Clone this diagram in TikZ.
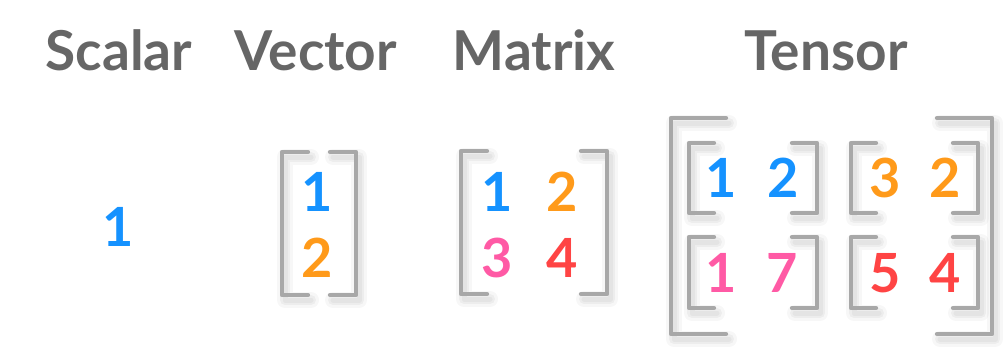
\documentclass[tikz,border=0pt]{standalone}
\usepackage{fontspec}
\setmainfont{Lato}
\definecolor{headgray}{RGB}{102,102,102}
\definecolor{brackgray}{RGB}{168,168,168}
\definecolor{numblue}{RGB}{21,146,255}
\definecolor{numorange}{RGB}{255,154,26}
\definecolor{numpink}{RGB}{255,90,165}
\definecolor{numred}{RGB}{255,68,68}
\usetikzlibrary{positioning}

\tikzset{
  heading/.style={font=\fontsize{55}{60}\selectfont\bfseries, text=headgray, inner sep=0pt, anchor=base},
  entry/.style={font=\fontsize{54}{60}\selectfont\bfseries, inner sep=0pt},
  softshade/.style={draw=black, draw opacity=#1, line cap=round, line join=round,
    transform canvas={shift={(3pt,-5pt)}}},
  brack/.style={draw=brackgray, line width=4.2pt, line cap=round, line join=round,
    preaction={softshade=0.03, line width=16pt},
    preaction={softshade=0.04, line width=10pt},
    preaction={softshade=0.04, line width=5pt}},
}
% left x, right x, top y, bottom y, arm length
\newcommand{\bracketpair}[5]{%
  \draw[brack] (#1+#5,#3) -- (#1,#3) -- (#1,#4) -- (#1+#5,#4);
  \draw[brack] (#2-#5,#3) -- (#2,#3) -- (#2,#4) -- (#2-#5,#4);}

\begin{document}
\begin{tikzpicture}[x=1pt, y=-1pt]
  \useasboundingbox (0,0) rectangle (1008,357);

  % headings
  \node[heading] (scalar) at (119,70) {Scalar};
  \node[heading] (vector) at (316,70) {Vector};
  \node[heading] (matrix) at (534,70) {Matrix};
  \node[heading] (tensor) at (826,70) {Tensor};

  % scalar
  \node[entry, text=numblue] (s1) at (118,227) {1};

  % vector
  \bracketpair{282}{356}{152}{295}{26}
  \node[entry, text=numblue] (v1) at (317,192) {1};
  \node[entry, text=numorange] (v2) at (317,258) {2};

  % matrix
  \bracketpair{461}{607}{151}{294}{26}
  \node[entry, text=numblue] (m11) at (497,192) {1};
  \node[entry, text=numorange] (m12) at (562,192) {2};
  \node[entry, text=numpink] (m21) at (497,258) {3};
  \node[entry, text=numred] (m22) at (562,258) {4};

  % tensor
  \bracketpair{671}{992}{118}{334}{55}
  \bracketpair{689}{817}{143}{213}{25}
  \bracketpair{851}{978}{143}{213}{25}
  \bracketpair{689}{817}{237}{308}{25}
  \bracketpair{851}{978}{237}{308}{25}
  \node[entry, text=numblue] (t111) at (721,178) {1};
  \node[entry, text=numblue] (t112) at (783,178) {2};
  \node[entry, text=numorange] (t121) at (885,178) {3};
  \node[entry, text=numorange] (t122) at (945,178) {2};
  \node[entry, text=numpink] (t211) at (721,273) {1};
  \node[entry, text=numpink] (t212) at (782,273) {7};
  \node[entry, text=numred] (t221) at (885,273) {5};
  \node[entry, text=numred] (t222) at (945,273) {4};
\end{tikzpicture}
\end{document}
